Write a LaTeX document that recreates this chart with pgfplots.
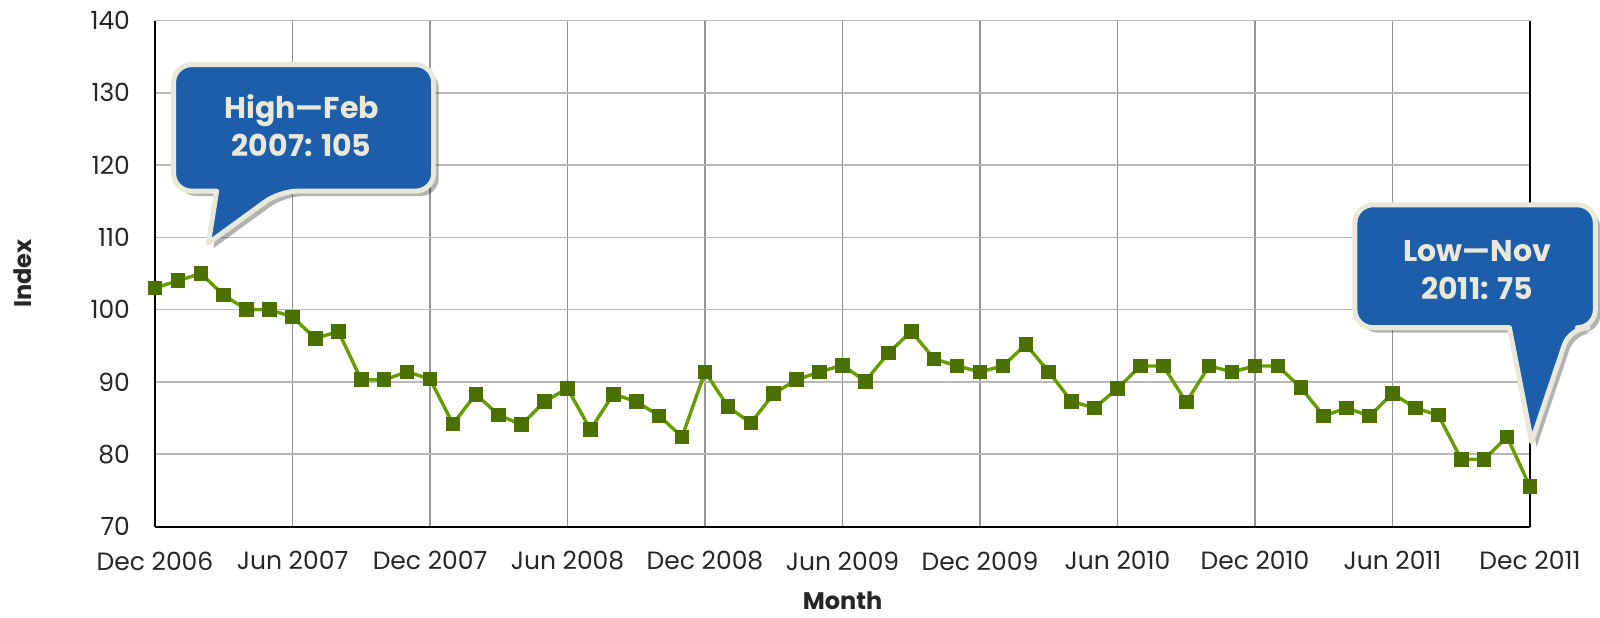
\documentclass[border=0pt]{standalone}
\usepackage{fontspec}
\setmainfont{Poppins}
\usepackage{pgfplots}
\pgfplotsset{compat=1.18}
\usetikzlibrary{shadows}
\definecolor{lineG}{RGB}{102,158,0}
\definecolor{markG}{RGB}{76,112,0}
\definecolor{callB}{RGB}{28,94,170}
\definecolor{callE}{RGB}{234,232,218}
\begin{document}
\begin{tikzpicture}
\useasboundingbox (-77.5pt,-45.25pt) rectangle (722.5pt,263.25pt);
\begin{axis}[
  scale only axis, width=687.5pt, height=253pt,
  xmin=0, xmax=60, ymin=70, ymax=140,
  xtick={0,6,...,60},
  xticklabels={Dec 2006, Jun 2007, Dec 2007, Jun 2008, Dec 2008, Jun 2009, Dec 2009, Jun 2010, Dec 2010, Jun 2011, Dec 2011},
  ytick={70,80,...,140},
  major tick length=0pt,
  grid=major,
  x grid style={black!42, line width=0.8pt},
  y grid style={black!28, line width=0.8pt},
  axis x line*=bottom, axis y line*=left,
  axis line style={black, line width=1pt, -},
  ticklabel style={font=\fontsize{12.5}{15}\selectfont, text=black!85},
  /pgf/number format/assume math mode=true,
  xticklabel style={yshift=-9pt},
  yticklabel style={xshift=-9pt},
  xlabel={Month}, ylabel={Index},
  label style={font=\fontsize{12}{14}\bfseries\selectfont, text=black!85},
  xlabel style={at={(axis description cs:0.5,-0.146)}, anchor=center},
  ylabel style={at={(axis description cs:-0.096,0.5)}, anchor=center},
  clip=false,
]
\addplot[color=lineG, line width=1.7pt, mark=square*, mark size=3.4pt,
  mark options={fill=markG, draw=markG, line width=0.5pt}] table[x=x, y=y] {
x y
0 103
1 104
2 105
3 102
4 100
5 100
6 99
7 96
8 97
9 90.3
10 90.3
11 91.4
12 90.4
13 84.2
14 88.3
15 85.4
16 84.1
17 87.3
18 89.1
19 83.4
20 88.3
21 87.3
22 85.3
23 82.4
24 91.4
25 86.6
26 84.3
27 88.4
28 90.3
29 91.4
30 92.3
31 90.1
32 94.0
33 97.0
34 93.2
35 92.2
36 91.4
37 92.2
38 95.2
39 91.4
40 87.3
41 86.4
42 89.1
43 92.2
44 92.2
45 87.2
46 92.2
47 91.4
48 92.2
49 92.2
50 89.2
51 85.3
52 86.4
53 85.3
54 88.4
55 86.4
56 85.4
57 79.3
58 79.3
59 82.4
60 75.5
};
\draw[black, line width=1pt] (rel axis cs:1,0) -- (rel axis cs:1,1);
% callout 1
\draw[callE, line width=2.5pt, fill=callB, line join=round,
  drop shadow={shadow xshift=2.5pt, shadow yshift=-2.5pt, opacity=0.3, fill=black}]
  (axis cs:6.5,133.9) [rounded corners=9pt] -- (axis cs:12.16,133.9) -- (axis cs:12.16,116.4)
  -- (axis cs:5.45,116.4) [sharp corners] -- (axis cs:2.33,109.2) -- (axis cs:2.69,116.4)
  [rounded corners=9pt] -- (axis cs:0.81,116.4) -- (axis cs:0.81,133.9) -- cycle;
\node[text=callE, font=\fontsize{15}{19}\bfseries\selectfont, align=center] at (axis cs:6.4,125.4) {High—Feb\\2007: 105};
% callout 2
\draw[callE, line width=2.5pt, fill=callB, line join=round,
  drop shadow={shadow xshift=2.5pt, shadow yshift=-2.5pt, opacity=0.3, fill=black}]
  (axis cs:57.6,114.5) [rounded corners=9pt] -- (axis cs:62.85,114.5) -- (axis cs:62.85,97.5)
  -- (axis cs:61.75,97.5) [sharp corners] -- (axis cs:60.07,81.7) -- (axis cs:59.1,97.5)
  [rounded corners=9pt] -- (axis cs:52.36,97.5) -- (axis cs:52.36,114.5) -- cycle;
\node[text=callE, font=\fontsize{15}{19}\bfseries\selectfont, align=center] at (axis cs:57.69,105.5) {Low—Nov\\2011: 75};
\end{axis}
\end{tikzpicture}
\end{document}
